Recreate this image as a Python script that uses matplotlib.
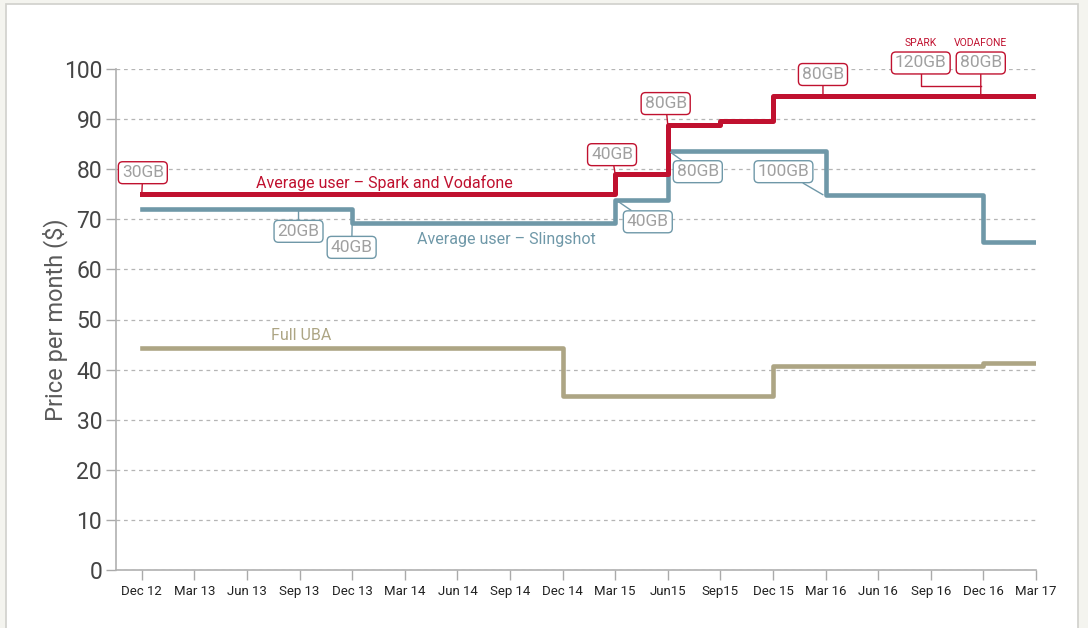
import matplotlib.pyplot as plt
from matplotlib.patches import Rectangle

plt.rcParams['font.family'] = ['Roboto', 'DejaVu Sans']

# quarter index: 0 = Dec 12 ... 17 = Mar 17
quarters = ["Dec 12", "Mar 13", "Jun 13", "Sep 13", "Dec 13", "Mar 14", "Jun 14", "Sep 14",
            "Dec 14", "Mar 15", "Jun15", "Sep15", "Dec 15", "Mar 16", "Jun 16", "Sep 16",
            "Dec 16", "Mar 17"]

spark_x = [0, 9, 10, 11, 12, 17]
spark_y = [75.0, 79.0, 88.8, 89.7, 94.6, 94.6]

sling_x = [0, 4, 9, 10, 13, 16, 17]
sling_y = [72.0, 69.2, 73.8, 83.6, 74.8, 65.4, 65.4]

uba_x = [0, 8, 12, 16, 17]
uba_y = [44.4, 34.7, 40.8, 41.3, 41.3]

red = "#c0112f"
blue = "#6f98a8"
tan = "#ada584"
boxtext = "#a0a0a0"

fig = plt.figure(figsize=(10.88, 6.28), dpi=100, facecolor="#f4f4ef")
fig.patches.append(Rectangle((6 / 1088, -0.01), 1072 / 1088, 1 - 4 / 628 + 0.01,
                             transform=fig.transFigure, facecolor="white",
                             edgecolor="#d0d0cc", linewidth=1.2, zorder=-10))
ax = fig.add_axes([116 / 1088, 1 - 570 / 628, 920 / 1088, 501 / 628])
ax.set_facecolor("none")

ax.step(uba_x, uba_y, where="post", color=tan, lw=3.3, solid_joinstyle="round", zorder=3)
ax.step(sling_x, sling_y, where="post", color=blue, lw=3.3, solid_joinstyle="round", zorder=3)
ax.step(spark_x, spark_y, where="post", color=red, lw=3.6, solid_joinstyle="round", zorder=4)

ax.set_xlim(-0.49, 17)
ax.set_ylim(0, 100)
ax.set_xticks(range(len(quarters)))
ax.set_xticklabels(quarters, fontsize=9.5)
ax.set_yticks(range(0, 101, 10))
ax.tick_params(axis="y", labelsize=16.5, length=7, width=1, color="#aaaaaa", pad=3)
ax.tick_params(axis="x", length=7, width=1, color="#aaaaaa", pad=4)
for lab in ax.get_yticklabels():
    lab.set_color("#444444")
for lab in ax.get_xticklabels():
    lab.set_color("#222222")
ax.grid(axis="y", linestyle=(0, (3, 3)), color="#b5b5b5", lw=0.9, zorder=0)
for s in ["top", "right"]:
    ax.spines[s].set_visible(False)
for s in ["left", "bottom"]:
    ax.spines[s].set_color("#b0b0b0")
    ax.spines[s].set_linewidth(1.2)
ax.set_ylabel("Price per month ($)", fontsize=17, color="#5a5a5a", labelpad=-3)

box_style = "round,pad=0.2,rounding_size=0.25"


def tag(text, xy, xytext, edge):
    ax.annotate(text, xy=xy, xytext=xytext, ha="center", va="center", fontsize=12.5,
                color=boxtext, annotation_clip=False, zorder=5,
                bbox=dict(boxstyle=box_style, fc="white", ec=edge, lw=1),
                arrowprops=dict(arrowstyle="-", color=edge, lw=1, shrinkA=0, shrinkB=0))


tag("30GB", (0, 75), (0.02, 79.3), red)
tag("40GB", (9, 79), (8.94, 82.9), red)
tag("80GB", (10, 88.8), (9.96, 93.1), red)
tag("80GB", (12.95, 94.6), (12.95, 98.9), red)
tag("20GB", (2.98, 72), (2.98, 67.6), blue)
tag("40GB", (4, 69.2), (3.99, 64.4), blue)
tag("40GB", (9.05, 73.6), (9.62, 69.5), blue)
tag("80GB", (10.05, 83.4), (10.57, 79.5), blue)
tag("100GB", (12.95, 74.9), (12.2, 79.5), blue)

# shared leader for Spark / Vodafone plan sizes
ax.plot([14.81, 14.81, 15.95], [99, 96.6, 96.6], color=red, lw=1, clip_on=False, zorder=4)
ax.text(14.81, 101.2, "120GB", ha="center", va="center", fontsize=12.5, color=boxtext,
        zorder=5, bbox=dict(boxstyle=box_style, fc="white", ec=red, lw=1))
tag("80GB", (15.95, 94.6), (15.95, 101.2), red)
ax.text(14.81, 105.2, "SPARK", ha="center", va="center", fontsize=7.5, color=red)
ax.text(15.95, 105.2, "VODAFONE", ha="center", va="center", fontsize=7.5, color=red)

ax.text(4.62, 77.3, "Average user \u2013 Spark and Vodafone", ha="center", va="center",
        fontsize=11.5, color=red)
ax.text(6.94, 65.9, "Average user \u2013 Slingshot", ha="center", va="center",
        fontsize=11.5, color=blue)
ax.text(3.04, 46.8, "Full UBA", ha="center", va="center", fontsize=11.5, color=tan)

fig.savefig("out.png", dpi=100, facecolor=fig.get_facecolor())
